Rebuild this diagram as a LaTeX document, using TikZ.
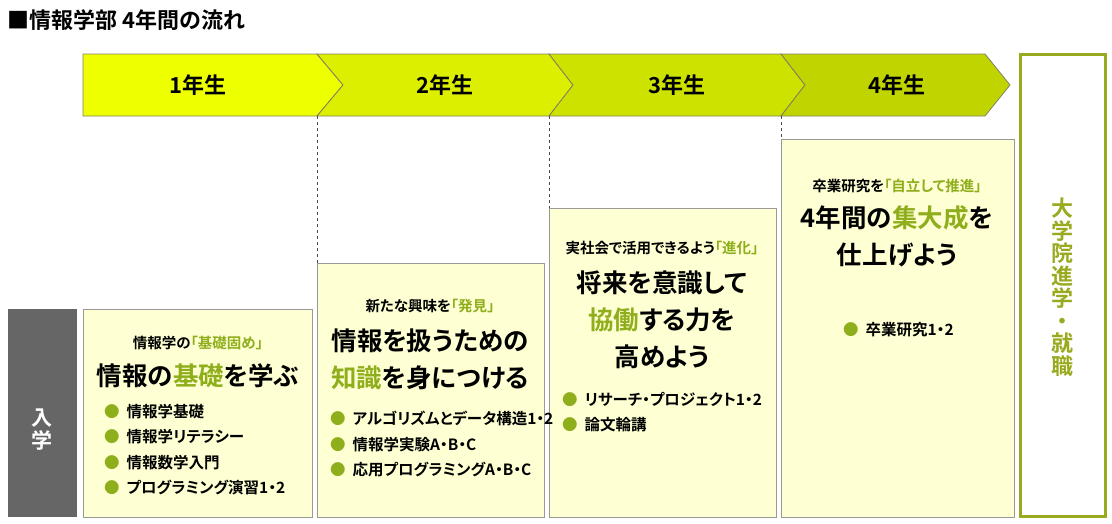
\documentclass[tikz,border=0pt]{standalone}
\usepackage{fontspec}
\setmainfont{Noto Sans CJK JP}[BoldFont={* Bold}, RawFeature=+palt]
\usetikzlibrary{positioning}
\definecolor{yearA}{HTML}{EEFF00}
\definecolor{yearB}{HTML}{DDEF00}
\definecolor{yearC}{HTML}{CEE200}
\definecolor{yearD}{HTML}{C0D400}
\definecolor{boxfill}{HTML}{FEFFD2}
\definecolor{accent}{HTML}{8FAE1C}
\definecolor{goal}{HTML}{9AAA1E}
\definecolor{entry}{HTML}{666666}
\newcommand{\hl}[1]{\textcolor{accent}{#1}}
\newcommand{\bul}{\textcolor{accent}{●}\hspace{0.45em}}
\tikzset{
  chevron/.style={draw=black!60!yellow!60!gray, line width=0.8pt},
  yearlabel/.style={font=\fontsize{22}{22}\selectfont\bfseries},
  stagebox/.style={draw=gray!80, fill=boxfill, line width=0.8pt},
  smalltext/.style={font=\fontsize{14.5}{16}\selectfont\bfseries},
  bigtext/.style={font=\fontsize{25.5}{37}\selectfont\bfseries, align=center},
  itemlist/.style={font=\fontsize{15.5}{25.5}\selectfont\bfseries, align=left, anchor=north west, inner sep=0pt},
  sep/.style={dashed, thin, black!70}
}
\begin{document}
\begin{tikzpicture}[x=1pt, y=-1pt]
\useasboundingbox (0,0) rectangle (1112,523);

\node[anchor=west, font=\fontsize{22}{22}\selectfont\bfseries] (title) at (4,20) {■情報学部 4年間の流れ};

% year arrows
\filldraw[chevron, fill=yearA] (83,54) -- (317,54) -- (343,85) -- (317,116) -- (83,116) -- cycle;
\filldraw[chevron, fill=yearB] (317,54) -- (549,54) -- (573,85) -- (549,116) -- (317,116) -- (343,85) -- cycle;
\filldraw[chevron, fill=yearC] (549,54) -- (781,54) -- (805,85) -- (781,116) -- (549,116) -- (573,85) -- cycle;
\filldraw[chevron, fill=yearD] (781,54) -- (985,54) -- (1010,85) -- (985,116) -- (781,116) -- (805,85) -- cycle;
\node[yearlabel] (y1) at (198,85) {1年生};
\node[yearlabel] (y2) at (445,85) {2年生};
\node[yearlabel] (y3) at (677,85) {3年生};
\node[yearlabel] (y4) at (897,85) {4年生};

% stage boxes
\filldraw[stagebox] (83,309) rectangle (312,517);
\filldraw[stagebox] (317,263) rectangle (544,517);
\filldraw[stagebox] (549,208) rectangle (776,517);
\filldraw[stagebox] (781,139) rectangle (1014,517);

\draw[sep] (317,116) -- (317,263);
\draw[sep] (549,116) -- (549,208);
\draw[sep] (781,116) -- (781,139);

% entry and goal
\fill[entry] (8,309) rectangle (77,517);
\node[text=white, font=\fontsize{21}{23}\selectfont\bfseries, align=center] (entrylabel) at (42,430) {入\\学};
\draw[goal, line width=3pt, fill=white] (1020,54) rectangle (1105,516);
\node[text=goal, font=\fontsize{22}{22.5}\selectfont\bfseries, align=center] (goallabel) at (1062,287) {大\\学\\院\\進\\学\\・\\就\\職};

% year 1
\node[smalltext] (s1) at (198,343) {情報学の\hl{「基礎固め」}};
\node[bigtext] (b1) at (198,376) {情報の\hl{基礎}を学ぶ};
\node[itemlist] (l1) at (104,404) {\bul 情報学基礎\\\bul 情報学リテラシー\\\bul 情報数学入門\\\bul プログラミング演習1・2};

% year 2
\node[smalltext] (s2) at (430,306) {新たな興味を\hl{「発見」}};
\node[bigtext] (b2) at (430,359) {情報を扱うための\\\hl{知識}を身につける};
\node[itemlist] (l2) at (330,411) {\bul アルゴリズムとデータ構造1・2\\\bul 情報学実験A・B・C\\\bul 応用プログラミングA・B・C};

% year 3
\node[smalltext] (s3) at (662,248) {実社会で活用できるよう\hl{「進化」}};
\node[bigtext] (b3) at (662,320) {将来を意識して\\\hl{協働}する力を\\高めよう};
\node[itemlist] (l3) at (562,392) {\bul リサーチ・プロジェクト1・2\\\bul 論文輪講};

% year 4
\node[smalltext] (s4) at (897,186) {卒業研究を\hl{「自立して推進」}};
\node[bigtext] (b4) at (897,236) {4年間の\hl{集大成}を\\仕上げよう};
\node[itemlist] (l4) at (843,322) {\bul 卒業研究1・2};
\end{tikzpicture}
\end{document}
